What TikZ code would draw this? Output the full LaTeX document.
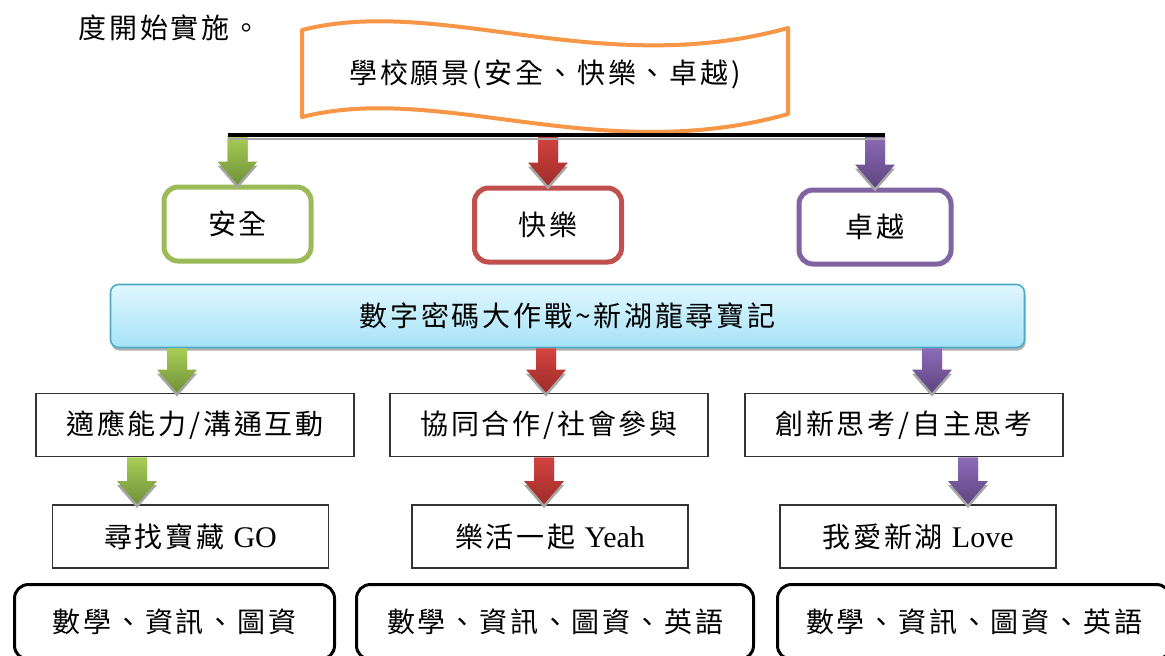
\documentclass[tikz,border=0pt]{standalone}
\usepackage{fontspec}
\setmainfont{Liberation Serif}
\newfontfamily\cjk{Noto Sans CJK TC}[LetterSpace=10]
\usetikzlibrary{calc, shadows}

\definecolor{ogreen}{HTML}{9BBB59}
\definecolor{ored}{HTML}{C0504D}
\definecolor{opurple}{HTML}{8064A2}
\definecolor{oorange}{HTML}{F79646}
\definecolor{oblue}{HTML}{4BACC6}
\definecolor{barTop}{HTML}{E0F7FE}
\definecolor{barBot}{HTML}{A6E3F7}
\definecolor{greenT}{HTML}{A8CD55}
\definecolor{greenB}{HTML}{70913A}
\definecolor{redT}{HTML}{D4433F}
\definecolor{redB}{HTML}{9E2C29}
\definecolor{purpleT}{HTML}{8D6BB8}
\definecolor{purpleB}{HTML}{5E4580}

% block arrow: top colour, bottom colour, start, tip
\newcommand\flowarrow[4]{%
  \shade[top color=#1, bottom color=#2,
         preaction={fill=black!35, transform canvas={yshift=-2pt}}]
    let \p1=#3, \p2=#4 in
    (\x1-5pt,\y1) -- (\x1-5pt,\y2+11.5pt) -- (\x1-10pt,\y2+11.5pt) -- (\x1,\y2)
    -- (\x1+10pt,\y2+11.5pt) -- (\x1+5pt,\y2+11.5pt) -- (\x1+5pt,\y1) -- cycle;
}
\newcommand\latin[1]{{\rmfamily\fontsize{15}{16}\selectfont #1}}

\begin{document}
\begin{tikzpicture}[
  x=0.5pt, y=-0.5pt,
  font=\cjk\fontsize{14}{16}\selectfont,
  lvone/.style={rounded corners=7pt, line width=2.5pt, fill=white,
    minimum width=73.5pt, minimum height=37pt},
  questbar/.style={rounded corners=4pt, draw=oblue, line width=0.8pt,
    top color=barTop, bottom color=barBot,
    minimum width=457pt, minimum height=31.5pt,
    drop shadow={shadow xshift=0.5pt, shadow yshift=-1.5pt, fill=black!45, opacity=0.7}},
  lvtwo/.style={draw=black!80, line width=0.9pt, fill=white,
    minimum width=159pt, minimum height=31.5pt},
  lvthree/.style={lvtwo, minimum width=138pt},
  subjbox/.style={draw=black, rounded corners=7pt, line width=1.5pt,
    minimum height=37.5pt},
]
\useasboundingbox (0,0) rectangle (1165,655);
\clip (0,0) rectangle (1165,655);

\node[anchor=west, inner sep=0pt] (intro) at (78,28) {度開始實施。};

% ---- vision banner ----
\draw[oorange, line width=2pt, line join=round, fill=white]
  (302,30) .. controls (440,-5) and (600,80) .. (788,28) -- (788,114)
  .. controls (600,167) and (440,82) .. (302,117) -- cycle;
\node (vision) at (545,74) {學校願景(安全、快樂、卓越)};

% ---- first level ----
\coordinate (lineL) at (228,135);
\coordinate (lineR) at (885,135);
\node[lvone, draw=ogreen] (safe) at (237.5,224) {安全};
\node[lvone, draw=ored] (joy) at (548,225) {快樂};
\node[lvone, draw=opurple, minimum width=76pt] (excel) at (875,227) {卓越};

\flowarrow{greenT}{greenB}{(safe |- lineL)}{(safe.north)}
\flowarrow{redT}{redB}{(joy |- lineL)}{(joy.north)}
\flowarrow{purpleT}{purpleB}{(excel |- lineL)}{(excel.north)}

\draw[black!35, line width=1.2pt] ([yshift=-2pt]lineL) -- ([yshift=-2pt]lineR);
\draw[line width=2pt] (lineL) -- (lineR);

% ---- activity bar ----
\node[questbar] (quest) at (567.5,316) {數字密碼大作戰{\char"7E}新湖龍尋寶記};

% ---- second level ----
\node[lvtwo] (adapt) at (195,425) {適應能力/溝通互動};
\node[lvtwo] (coop) at (549,425) {協同合作/社會參與};
\node[lvtwo] (think) at (904,425) {創新思考/自主思考};

\flowarrow{greenT}{greenB}{(177,0 |- quest.south)}{(177,0 |- adapt.north)}
\flowarrow{redT}{redB}{(546,0 |- quest.south)}{(546,0 |- coop.north)}
\flowarrow{purpleT}{purpleB}{(932,0 |- quest.south)}{(932,0 |- think.north)}

% ---- third level ----
\node[lvthree] (seek) at (190.5,536.5) {尋找寶藏 \latin{GO}};
\node[lvthree] (happy) at (550,536.5) {樂活一起 \latin{Yeah}};
\node[lvthree] (love) at (918,536.5) {我愛新湖 \latin{Love}};

\flowarrow{greenT}{greenB}{(137,0 |- adapt.south)}{(137,0 |- seek.north)}
\flowarrow{redT}{redB}{(544,0 |- coop.south)}{(544,0 |- happy.north)}
\flowarrow{purpleT}{purpleB}{(968,0 |- think.south)}{(968,0 |- love.north)}

% ---- subjects ----
\node[subjbox, minimum width=160pt] (subjA) at (174.5,622) {數學、資訊、圖資};
\node[subjbox, minimum width=198.5pt] (subjB) at (555,622) {數學、資訊、圖資、英語};
\node[subjbox, minimum width=196.5pt] (subjC) at (974,622) {數學、資訊、圖資、英語};

\end{tikzpicture}
\end{document}
